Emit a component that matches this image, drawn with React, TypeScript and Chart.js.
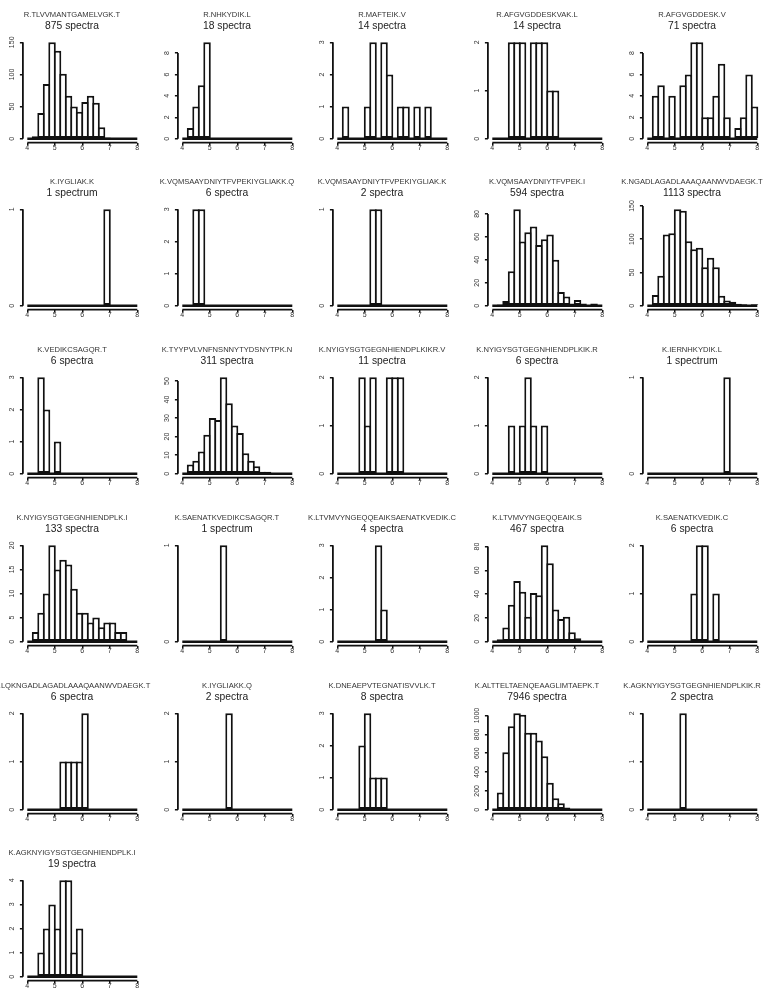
import React, { useEffect, useRef } from "react";
import { Chart, registerables } from "chart.js";
Chart.register(...registerables);

// ---------- data ----------
const BREAKS = [4.0, 4.2, 4.4, 4.6, 4.8, 5.0, 5.2, 5.4, 5.6, 5.8, 6.0, 6.2, 6.4, 6.6, 6.8, 7.0, 7.2, 7.4, 7.6, 7.8, 8.0];
const X_TICKS = [4, 5, 6, 7, 8];

const PEPTIDES = [
  "R.TLVVMANTGAMELVGK.T", "R.NHKYDIK.L", "R.MAFTEIK.V", "R.AFGVGDDESKVAK.L", "R.AFGVGDDESK.V",
  "K.IYGLIAK.K", "K.VQMSAAYDNIYTFVPEKIYGLIAKK.Q", "K.VQMSAAYDNIYTFVPEKIYGLIAK.K", "K.VQMSAAYDNIYTFVPEK.I", "K.NGADLAGADLAAAQAANWVDAEGK.T",
  "K.VEDIKCSAGQR.T", "K.TYYPVLVNFNSNNYTYDSNYTPK.N", "K.NYIGYSGTGEGNHIENDPLKIKR.V", "K.NYIGYSGTGEGNHIENDPLKIK.R", "K.IERNHKYDIK.L",
  "K.NYIGYSGTGEGNHIENDPLK.I", "K.SAENATKVEDIKCSAGQR.T", "K.LTVMVYNGEQQEAIKSAENATKVEDIK.C", "K.LTVMVYNGEQQEAIK.S", "K.SAENATKVEDIK.C",
  "K.LQKNGADLAGADLAAAQAANWVDAEGK.T", "K.IYGLIAKK.Q", "K.DNEAEPVTEGNATISVVLK.T", "K.ALTTELTAENQEAAGLIMTAEPK.T", "K.AGKNYIGYSGTGEGNHIENDPLKIK.R",
  "K.AGKNYIGYSGTGEGNHIENDPLK.I",
];
const SPECTRA = [875, 18, 14, 14, 71, 1, 6, 2, 594, 1113, 6, 311, 11, 6, 1, 133, 1, 4, 467, 6, 6, 2, 8, 7946, 2, 19];

// counts per bin (bins of BREAKS)
const C01 = [0, 4, 40, 85, 150, 137, 101, 67, 50, 42, 57, 67, 56, 18, 2, 0, 0, 0, 0, 0];
const C02 = [0, 1, 3, 5, 9, 0, 0, 0, 0, 0, 0, 0, 0, 0, 0, 0, 0, 0, 0, 0];
const C03 = [0, 1, 0, 0, 0, 1, 3, 0, 3, 2, 0, 1, 1, 0, 1, 0, 1, 0, 0, 0];
const C04 = [0, 0, 0, 2, 2, 2, 0, 2, 2, 2, 1, 1, 0, 0, 0, 0, 0, 0, 0, 0];
const C05 = [0, 4, 5, 0, 4, 0, 5, 6, 9, 9, 2, 2, 4, 7, 2, 0, 1, 2, 6, 3];
const C06 = [0, 0, 0, 0, 0, 0, 0, 0, 0, 0, 0, 0, 0, 0, 1, 0, 0, 0, 0, 0];
const C07 = [0, 0, 3, 3, 0, 0, 0, 0, 0, 0, 0, 0, 0, 0, 0, 0, 0, 0, 0, 0];
const C08 = [0, 0, 0, 0, 0, 0, 1, 1, 0, 0, 0, 0, 0, 0, 0, 0, 0, 0, 0, 0];
const C09 = [0, 1, 4, 30, 84, 56, 64, 69, 53, 58, 62, 40, 12, 8, 2, 5, 2, 0, 2, 0];
const C10 = [0, 16, 45, 107, 109, 145, 143, 97, 85, 87, 58, 72, 58, 15, 8, 6, 3, 2, 0, 2];
const C11 = [0, 0, 3, 2, 0, 1, 0, 0, 0, 0, 0, 0, 0, 0, 0, 0, 0, 0, 0, 0];
const C12 = [0, 5, 7, 12, 21, 30, 29, 52, 38, 26, 22, 11, 7, 4, 1, 1, 0, 0, 0, 0];
const C13 = [0, 0, 0, 0, 2, 1, 2, 0, 0, 2, 2, 2, 0, 0, 0, 0, 0, 0, 0, 0];
const C14 = [0, 0, 0, 1, 0, 1, 2, 1, 0, 1, 0, 0, 0, 0, 0, 0, 0, 0, 0, 0];
const C15 = [0, 0, 0, 0, 0, 0, 0, 0, 0, 0, 0, 0, 0, 0, 1, 0, 0, 0, 0, 0];
const C16 = [0, 2, 6, 10, 20, 15, 17, 16, 11, 6, 6, 4, 5, 3, 4, 4, 2, 2, 0, 0];
const C17 = [0, 0, 0, 0, 0, 0, 0, 1, 0, 0, 0, 0, 0, 0, 0, 0, 0, 0, 0, 0];
const C18 = [0, 0, 0, 0, 0, 0, 0, 3, 1, 0, 0, 0, 0, 0, 0, 0, 0, 0, 0, 0];
const C19 = [0, 2, 12, 31, 51, 42, 21, 41, 39, 81, 66, 27, 19, 21, 8, 3, 0, 0, 0, 0];
const C20 = [0, 0, 0, 0, 0, 0, 0, 0, 1, 2, 2, 0, 1, 0, 0, 0, 0, 0, 0, 0];
const C21 = [0, 0, 0, 0, 0, 0, 1, 1, 1, 1, 2, 0, 0, 0, 0, 0, 0, 0, 0, 0];
const C22 = [0, 0, 0, 0, 0, 0, 0, 0, 2, 0, 0, 0, 0, 0, 0, 0, 0, 0, 0, 0];
const C23 = [0, 0, 0, 0, 2, 3, 1, 1, 1, 0, 0, 0, 0, 0, 0, 0, 0, 0, 0, 0];
const C24 = [0, 183, 610, 886, 1024, 1008, 817, 817, 734, 569, 286, 121, 69, 24, 7, 3, 0, 0, 0, 0];
const C25 = [0, 0, 0, 0, 0, 0, 2, 0, 0, 0, 0, 0, 0, 0, 0, 0, 0, 0, 0, 0];
const C26 = [0, 0, 1, 2, 3, 2, 4, 4, 1, 2, 0, 0, 0, 0, 0, 0, 0, 0, 0, 0];

// y tick labels per panel
const Y01 = [0, 50, 100, 150];
const Y02 = [0, 2, 4, 6, 8];
const Y03 = [0, 1, 2, 3];
const Y04 = [0, 1, 2];
const Y05 = [0, 2, 4, 6, 8];
const Y06 = [0, 1];
const Y07 = [0, 1, 2, 3];
const Y08 = [0, 1];
const Y09 = [0, 20, 40, 60, 80];
const Y10 = [0, 50, 100, 150];
const Y11 = [0, 1, 2, 3];
const Y12 = [0, 10, 20, 30, 40, 50];
const Y13 = [0, 1, 2];
const Y14 = [0, 1, 2];
const Y15 = [0, 1];
const Y16 = [0, 5, 10, 15, 20];
const Y17 = [0, 1];
const Y18 = [0, 1, 2, 3];
const Y19 = [0, 20, 40, 60, 80];
const Y20 = [0, 1, 2];
const Y21 = [0, 1, 2];
const Y22 = [0, 1, 2];
const Y23 = [0, 1, 2, 3];
const Y24 = [0, 200, 400, 600, 800, 1000];
const Y25 = [0, 1, 2];
const Y26 = [0, 1, 2, 3, 4];

const COUNTS = [C01, C02, C03, C04, C05, C06, C07, C08, C09, C10, C11, C12, C13, C14, C15, C16, C17, C18, C19, C20, C21, C22, C23, C24, C25, C26];
const Y_TICKS = [Y01, Y02, Y03, Y04, Y05, Y06, Y07, Y08, Y09, Y10, Y11, Y12, Y13, Y14, Y15, Y16, Y17, Y18, Y19, Y20, Y21, Y22, Y23, Y24, Y25, Y26];

// ---------- layout ----------
const PANEL_W = 155;
const PANEL_H = 167;
const ROW_TOPS = [0, 167, 335, 503, 671, 838];
const PLOT_LEFT = 22.9;
const PLOT_RIGHT = 141.7;
const PLOT_TOP = 38.44;
const PLOT_BOTTOM = 142.56;
const X_MIN = 3.84;
const X_MAX = 8.16;
const Y_AXIS_W = 20;
const X_AXIS_H = 20;
const BAR_BW = 2;
const BIN_PX = ((PLOT_RIGHT - PLOT_LEFT) * 0.2) / (X_MAX - X_MIN);
const BAR_PCT = 1 + BAR_BW / BIN_PX;
const FONT_FAMILY = '"Liberation Sans", Arial, Helvetica, sans-serif';
const TICK_FONT_SIZE = 7;
const Y_LABEL_CX = 12;
const TITLE_CX = 72;
const INK = "#111";

function measure(text: string, size: number) {
  const c = document.createElement("canvas").getContext("2d")!;
  c.font = `${size}px ${FONT_FAMILY}`;
  return c.measureText(text).width;
}

function Panel({ idx }: { idx: number }) {
  const ref = useRef<HTMLCanvasElement>(null);
  useEffect(() => {
    const counts = COUNTS[idx];
    const yt = Y_TICKS[idx];
    const ymax = Math.max(...counts);
    const widest = Math.max(...yt.map((v) => measure(String(v), TICK_FONT_SIZE)));
    const tickLen = 3;
    const yPad = PLOT_LEFT - tickLen - Y_LABEL_CX - widest / 2;

    const rAxes = {
      id: "rAxes",
      afterDatasetsDraw(chart: any) {
        const { ctx, chartArea } = chart;
        const x = chart.scales.x;
        const y = chart.scales.y;
        ctx.save();
        ctx.strokeStyle = INK;
        ctx.lineCap = "butt";
        ctx.lineWidth = 2.4;
        ctx.beginPath();
        ctx.moveTo(x.getPixelForValue(BREAKS[0]), y.getPixelForValue(0));
        ctx.lineTo(x.getPixelForValue(BREAKS[BREAKS.length - 1]), y.getPixelForValue(0));
        ctx.stroke();
        ctx.lineWidth = 1.8;
        ctx.beginPath();
        ctx.moveTo(x.getPixelForValue(X_TICKS[0]), chartArea.bottom);
        ctx.lineTo(x.getPixelForValue(X_TICKS[X_TICKS.length - 1]), chartArea.bottom);
        ctx.stroke();
        ctx.beginPath();
        ctx.moveTo(chartArea.left, y.getPixelForValue(yt[0]));
        ctx.lineTo(chartArea.left, y.getPixelForValue(yt[yt.length - 1]));
        ctx.stroke();
        ctx.restore();
      },
    };

    const tickFont = { family: FONT_FAMILY, size: TICK_FONT_SIZE };
    const chart = new Chart(ref.current!, {
      type: "bar",
      data: {
        datasets: [
          {
            data: counts.map((c, i) => ({ x: (BREAKS[i] + BREAKS[i + 1]) / 2, y: c })),
            backgroundColor: "#ffffff",
            borderColor: INK,
            borderWidth: BAR_BW,
            borderSkipped: false,
            barPercentage: BAR_PCT,
            categoryPercentage: 1,
            inflateAmount: 0,
          } as any,
        ],
      },
      options: {
        animation: false,
        responsive: false,
        devicePixelRatio: 1,
        events: [],
        layout: {
          padding: {
            left: PLOT_LEFT - Y_AXIS_W,
            right: PANEL_W - PLOT_RIGHT,
            top: PLOT_TOP,
            bottom: PANEL_H - PLOT_BOTTOM - X_AXIS_H,
          },
        },
        plugins: { legend: { display: false }, tooltip: { enabled: false }, title: { display: false } },
        scales: {
          x: {
            type: "linear",
            min: X_MIN,
            max: X_MAX,
            offset: false,
            afterBuildTicks: (s: any) => {
              s.ticks = X_TICKS.map((v) => ({ value: v }));
            },
            afterFit: (s: any) => {
              s.height = X_AXIS_H;
            },
            grid: { display: true, offset: false, drawOnChartArea: false, drawTicks: true, tickLength: tickLen, color: INK, lineWidth: 1.5 },
            border: { display: false },
            ticks: { autoSkip: false, maxRotation: 0, minRotation: 0, padding: -1.8, font: tickFont, color: "#333", callback: (v: any) => String(v) },
          },
          y: {
            type: "linear",
            min: -0.04 * ymax,
            max: 1.04 * ymax,
            afterBuildTicks: (s: any) => {
              s.ticks = yt.map((v) => ({ value: v }));
            },
            afterFit: (s: any) => {
              s.width = Y_AXIS_W;
            },
            grid: { display: true, drawOnChartArea: false, drawTicks: true, tickLength: tickLen, color: INK, lineWidth: 1.5 },
            border: { display: false },
            ticks: { autoSkip: false, minRotation: 90, maxRotation: 90, crossAlign: "center", padding: yPad, font: tickFont, color: "#333", callback: (v: any) => String(v) },
          },
        },
      } as any,
      plugins: [rAxes],
    });
    return () => chart.destroy();
  }, [idx]);

  const row = Math.floor(idx / 5);
  const col = idx % 5;
  const n = SPECTRA[idx];
  return (
    <div style={{ position: "absolute", left: col * PANEL_W, top: ROW_TOPS[row], width: PANEL_W, height: PANEL_H }}>
      <canvas ref={ref} width={PANEL_W} height={PANEL_H} style={{ position: "absolute", left: 0, top: 0, width: PANEL_W, height: PANEL_H }} />
      <div
        style={{
          position: "absolute", left: TITLE_CX, top: 10.6, transform: "translateX(-50%)", whiteSpace: "nowrap",
          fontFamily: FONT_FAMILY, fontSize: 7.6, lineHeight: "7.6px", color: "#333",
        }}
      >
        {PEPTIDES[idx]}
      </div>
      <div
        style={{
          position: "absolute", left: TITLE_CX, top: 21, transform: "translateX(-50%)", whiteSpace: "nowrap",
          fontFamily: FONT_FAMILY, fontSize: 10.3, lineHeight: "10.3px", color: "#222",
        }}
      >
        {`${n} ${n === 1 ? "spectrum" : "spectra"}`}
      </div>
    </div>
  );
}

export default function App() {
  useEffect(() => {
    document.body.style.margin = "0";
    document.body.style.background = "#fff";
  }, []);
  return (
    <div style={{ position: "relative", width: 775, height: 1001, overflow: "hidden", background: "#fff" }}>
      <style>{"body{margin:0}"}</style>
      {COUNTS.map((_, i) => (
        <Panel key={i} idx={i} />
      ))}
    </div>
  );
}
